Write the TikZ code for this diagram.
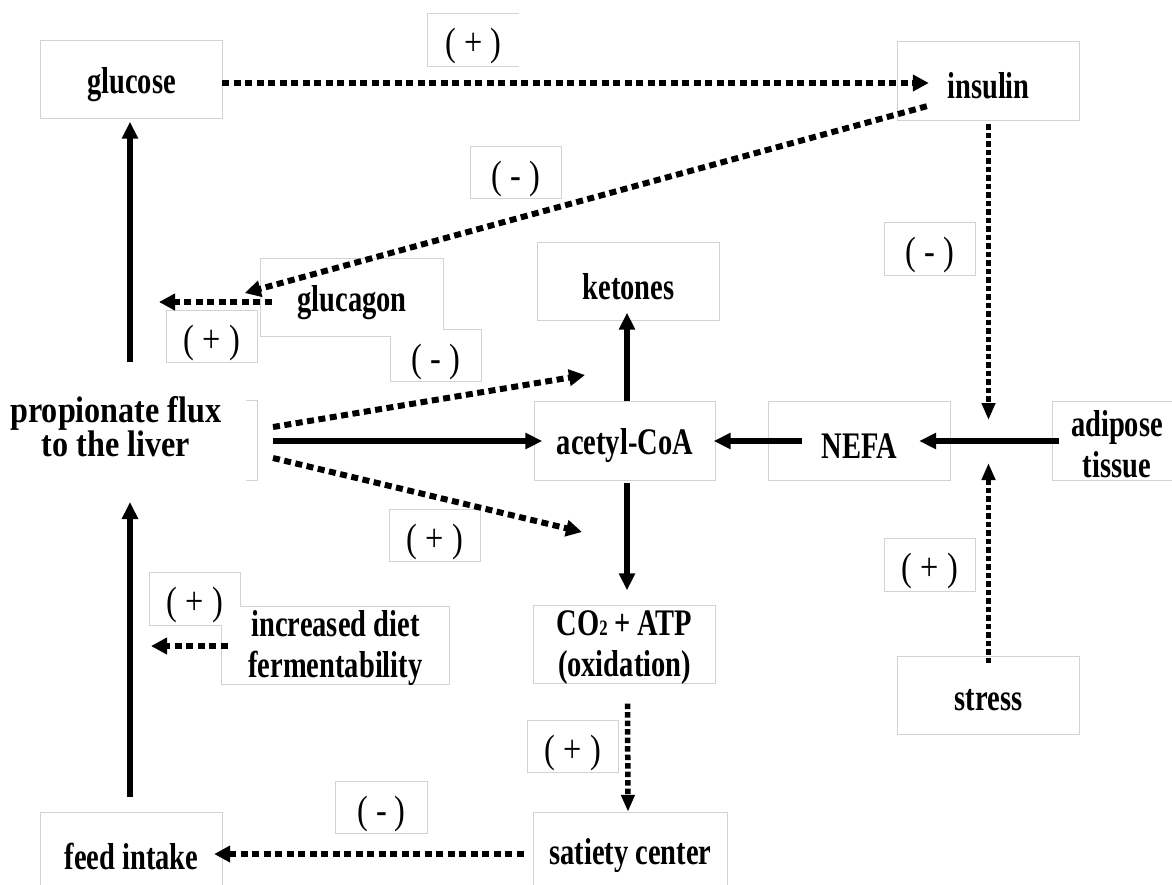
\documentclass[tikz,border=0pt]{standalone}
\usepackage{fontspec}
\setmainfont{Liberation Serif}
\newfontfamily\mainf{Liberation Serif}[FakeStretch=0.76]
\newfontfamily\lblf{Liberation Serif}[FakeStretch=0.82]
\newfontfamily\propf{Liberation Serif}[FakeStretch=0.87]
\usetikzlibrary{arrows.meta,calc,backgrounds}
\definecolor{framec}{HTML}{D2D2D2}
\newcommand\drawframe[1]{\draw[framec,line width=1pt] (#1.south west) rectangle (#1.north east);}
\newcommand\fillframe[1]{\fill[white] ($(#1.south west)+(0.6,-0.6)$) rectangle ($(#1.north east)+(-0.6,0.6)$);}
\begin{document}
\begin{tikzpicture}[x=1pt,y=-1pt,
  boxshape/.style={inner sep=0pt, minimum width=181pt, minimum height=78pt},
  lblshape/.style={inner sep=0pt, minimum width=91pt, minimum height=52pt},
  txt/.style={inner sep=0pt, align=center, font=\mainf\fontsize{37.5}{41}\selectfont\bfseries},
  lbltxt/.style={inner sep=0pt, font=\lblf\fontsize{39.5}{40}\selectfont},
  solidarr/.style={line width=5.5pt, -{Triangle[length=17pt,width=15.5pt]}},
  dotH/.style={line width=6pt, dash pattern=on 7pt off 4.5pt, -{Triangle[length=16pt,width=16pt]}},
  dotV/.style={line width=5.5pt, dash pattern=on 5.5pt off 3pt, -{Triangle[length=17pt,width=13pt]}},
]
\useasboundingbox (0,0) rectangle (1172,884);

% ---- boxes
\node[boxshape] (glucose) at (131.5,79.5) {};
\node[boxshape] (insulin) at (988.5,81) {};
\node[boxshape, minimum width=182pt] (glucagon) at (352,297.5) {};
\node[boxshape] (ketones) at (628.5,281.5) {};
\node[boxshape] (acetyl) at (625,441) {};
\node[boxshape] (nefa) at (859.5,441) {};
\node[boxshape, minimum width=128pt] (adipose) at (1117,441) {};
\node[boxshape] (co2) at (624.5,644.5) {};
\node[boxshape, minimum width=227pt] (diet) at (335.5,645.5) {};
\node[boxshape] (stress) at (988.5,695.5) {};
\node[boxshape] (feed) at (131.5,852) {};
\node[boxshape, minimum width=193pt] (satiety) at (630.5,852) {};

% ---- label boxes
\node[lblshape] (l1) at (473.5,40) {};
\node[lblshape] (l2) at (516,172.5) {};
\node[lblshape] (l3) at (930,249) {};
\node[lblshape] (l4) at (212,336.5) {};
\node[lblshape] (l5) at (436,355.5) {};
\node[lblshape] (l6) at (435,535.5) {};
\node[lblshape] (l7) at (195,599) {};
\node[lblshape] (l8) at (930,565) {};
\node[lblshape] (l9) at (573,746.5) {};
\node[lblshape] (l10) at (381.5,807.5) {};

\begin{scope}[on background layer]
  \fill[white] (0,0) rectangle (1172,884);
  \foreach \n in {glucose,insulin,glucagon,ketones,acetyl,nefa,adipose,co2,diet,stress,feed,satiety,
                  l2,l3,l4,l5,l6,l7,l8,l9,l10}{\drawframe{\n}}
  \draw[framec,line width=1pt] (l1.north east) -- (l1.north west) -- (l1.south west) -- (l1.south east);
  \draw[framec,line width=1pt] (246,400) -- (257,400) -- (257,480) -- (246,480);
  \foreach \n in {glucose,insulin,glucagon,ketones,acetyl,nefa,adipose,co2,diet,stress,feed,satiety,
                  l1,l2,l3,l4,l5,l6,l7,l8,l9,l10}{\fillframe{\n}}
\end{scope}

% ---- texts
\node[txt] (glucoseT) at ($(glucose)+(0,5)$) {glucose};
\node[txt] (insulinT) at ($(insulin)+(0,5)$) {insulin};
\node[txt] (glucagonT) at ($(glucagon)+(0,5)$) {glucagon};
\node[txt] (ketonesT) at ($(ketones)+(0,5)$) {ketones};
\node[txt] (acetylT) at ($(acetyl)+(0,5)$) {acetyl-CoA};
\node[txt] (nefaT) at ($(nefa)+(0,5)$) {NEFA};
\node[txt] (adiposeT) at ($(adipose)+(0,3)$) {adipose\\tissue};
\node[txt] (co2T) at ($(co2)+(0,3)$) {CO{\fontsize{22}{22}\selectfont 2}\,+ ATP\\(oxidation)};
\node[txt] (dietT) at ($(diet)+(0,3)$) {increased diet\\fermentability};
\node[txt] (stressT) at ($(stress)+(0,5)$) {stress};
\node[txt] (feedT) at ($(feed)+(0,4)$) {feed intake};
\node[txt] (satietyT) at ($(satiety)+(0,4)$) {satiety center};
\node[txt, font=\propf\fontsize{37}{34}\selectfont\bfseries] (prop) at (116,427) {propionate flux\\to the liver};

\foreach \n/\s in {l1/+,l2/-,l3/-,l4/+,l5/-,l6/+,l7/+,l8/+,l9/+,l10/-}{
  \node[lbltxt] (\n T) at ($(\n)+(0,6)$) {( \s\ )};
}

% ---- named free ends
\coordinate (jn) at (988.5,441);
\coordinate (propN) at (130,362);
\coordinate (propS) at (130,502);
\coordinate (pE) at (273,441);
\coordinate (upEnd) at (585,375);
\coordinate (dnEnd) at (582,532);
\coordinate (glgEnd) at (159,302);
\coordinate (dietEnd) at (151,646);

% ---- connectors
\draw[dotH] ($(glucose.east)+(0,3.5)$) -- ($(insulin.west)+(31,2)$);
\draw[dotH] ($(insulin.south west)+(29,-14)$) -- ($(glucagon.west)+(-16,-4.5)$);
\draw[dotV] ($(insulin.south)+(0,4)$) -- ($(jn)+(0,-21)$);
\draw[dotH] ($(glucagon.west)+(11,4.5)$) -- (glgEnd);
\draw[solidarr] (propN) -- ($(glucose.south)+(-1.5,3)$);
\draw[solidarr] (pE) -- ($(acetyl.west)+(8,0)$);
\draw[dotH] ($(pE)+(0,-14)$) -- (upEnd);
\draw[dotH] ($(pE)+(0,17)$) -- (dnEnd);
\draw[solidarr] ($(nefa.west)+(33,0)$) -- ($(acetyl.east)+(-2,0)$);
\draw[solidarr] ($(adipose.west)+(6,0)$) -- ($(nefa.east)+(-31,0)$);
\draw[solidarr] ($(acetyl.north)+(2,-1)$) -- ($(ketones.south)+(-1.5,-8)$);
\draw[solidarr] ($(acetyl.south)+(2,3)$) -- ($(co2.north)+(2.5,-15)$);
\draw[dotV] ($(co2.south)+(3,20)$) -- ($(satiety.north)+(-2.5,-1)$);
\draw[dotH] ($(satiety.west)+(-10,2)$) -- ($(feed.east)+(-8,2)$);
\draw[solidarr] ($(feed.north)+(-1.5,-16)$) -- (propS);
\draw[dotH] ($(diet.west)+(6,0.5)$) -- (dietEnd);
\draw[dotV] ($(stress.north)+(0,7)$) -- ($(jn)+(0,22)$);
\end{tikzpicture}
\end{document}
